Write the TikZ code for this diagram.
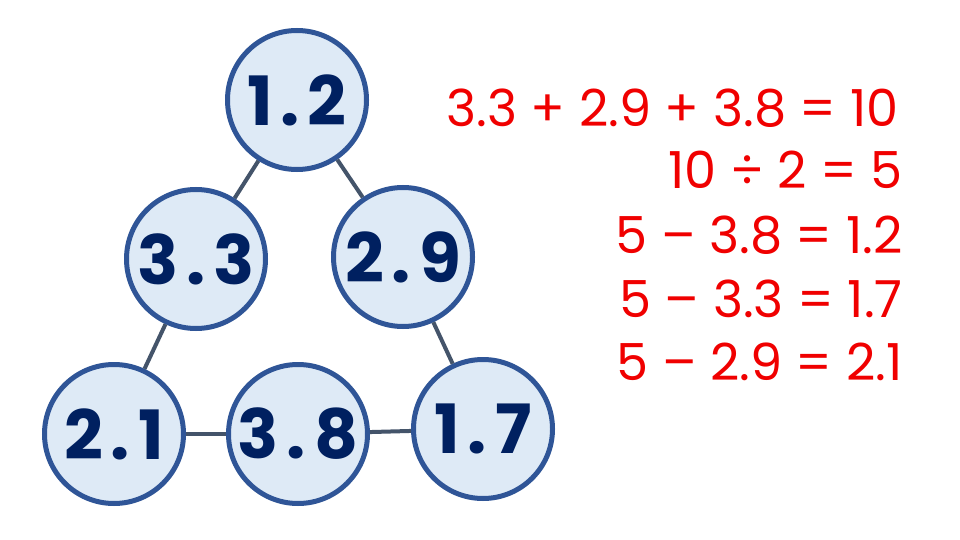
\documentclass[tikz,border=0pt]{standalone}
\usepackage{fontspec}
\setmainfont{Poppins}
\definecolor{nodefill}{HTML}{DEEAF6}
\definecolor{nodeborder}{HTML}{2F5597}
\definecolor{nodetext}{HTML}{002060}
\definecolor{linkcol}{HTML}{44546A}
\definecolor{eqred}{HTML}{F00000}
\tikzset{
  numnode/.style={circle, draw=nodeborder, fill=nodefill, line width=5pt,
    minimum size=139pt, inner sep=0pt, text=nodetext,
    font=\fontsize{68}{68}\selectfont\bfseries},
  link/.style={draw=linkcol, line width=4pt},
  eq/.style={anchor=base east, text=eqred, inner sep=0pt,
    font=\fontsize{51}{51}\selectfont}
}
\newcommand{\digsp}{\hspace{8pt}}
\begin{document}
\begin{tikzpicture}[x=1pt,y=-1pt]
\useasboundingbox[fill=white] (0,0) rectangle (960,540);
\node[numnode] (a) at (297,100) {1\digsp.\digsp2};
\node[numnode] (b) at (196,259) {3\digsp.\digsp3};
\node[numnode] (c) at (403,257) {2\digsp.\digsp9};
\node[numnode] (d) at (114,434) {2\digsp.\digsp1};
\node[numnode] (e) at (298,434) {3\digsp.\digsp8};
\node[numnode] (f) at (483,429) {1\digsp.\digsp7};
\draw[link] (a) -- (b);
\draw[link] (a) -- (c);
\draw[link] (b) -- (d);
\draw[link] (c) -- (f);
\draw[link] (d) -- (e);
\draw[link] (e) -- (f);
\node[eq] (q1) at (899,127) {3.3 + 2.9 + 3.8 = 10};
\node[eq] (q2) at (903,188) {10 ÷ 2 = 5};
\node[eq] (q3) at (903,253) {5 – 3.8 = 1.2};
\node[eq] (q4) at (903,317) {5 – 3.3 = 1.7};
\node[eq] (q5) at (903,380) {5 – 2.9 = 2.1};
\end{tikzpicture}
\end{document}
